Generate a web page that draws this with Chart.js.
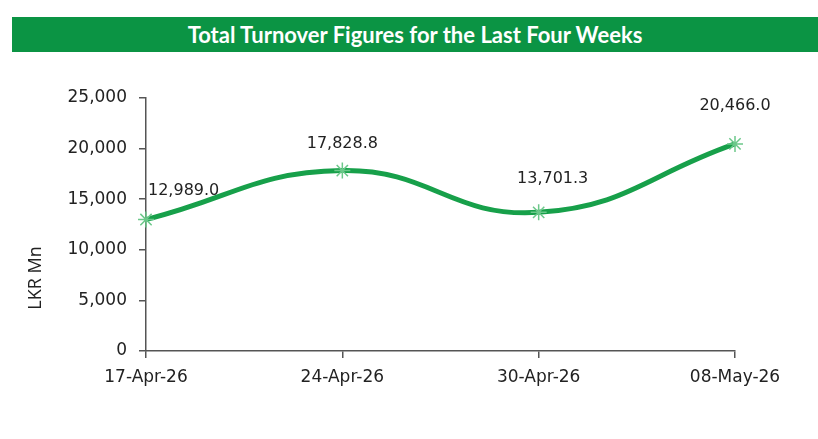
<!DOCTYPE html>
<html>
<head>
<meta charset="utf-8">
<script src="https://cdn.jsdelivr.net/npm/chart.js@4.4.1/dist/chart.umd.min.js"></script>
<style>
  html, body { margin: 0; padding: 0; background: #fff; }
  #wrap { position: relative; width: 818px; height: 439px; overflow: hidden; }
  #banner {
    position: absolute; left: 12px; top: 17px; width: 806px; height: 35px;
    background: #0b9444; color: #fff; font: bold 22px Lato, sans-serif;
    line-height: 35px; text-align: center;
  }
  canvas { position: absolute; left: 0; top: 0; }
</style>
</head>
<body>
<div id="wrap">
  <div id="banner">Total Turnover Figures for the Last Four Weeks</div>
  <canvas id="turnoverChart" width="818" height="439"></canvas>
</div>
<script>
// Week labels and turnover (LKR Mn)
const weeks = ["17-Apr-26", "24-Apr-26", "30-Apr-26", "08-May-26"];
const turnover = [12989.0, 17828.8, 13701.3, 20466.0];
const yTicks = [0, 5000, 10000, 15000, 20000, 25000];

const axisColor = "#555";
const textColor = "#222";
const tickFont = { size: 17, family: "DejaVu Sans" };

// label nudges (dx, dy, align) per point, like the hand-placed excel labels
const labelPos = [
    { dx: 2, dy: -29, align: "left" },
    { dx: 0, dy: -27, align: "center" },
    { dx: 14, dy: -33, align: "center" },
    { dx: 0, dy: -38, align: "center" },
];

const fmt = v => v.toLocaleString("en-US", { minimumFractionDigits: 1, maximumFractionDigits: 1 });

const ctx = document.getElementById("turnoverChart").getContext("2d");
new Chart(ctx, {
    type: "line",
    data: {
        labels: weeks,
        datasets: [
            {
                data: turnover,
                borderColor: "#17a04a",
                borderWidth: 5,
                tension: 0.45,
                pointStyle: "star",
                pointRadius: 8,
                pointBorderWidth: 1.5,
                pointBorderColor: "#6cc88a",
                pointBackgroundColor: "#6cc88a",
                fill: false,
            },
        ],
    },
    options: {
        responsive: false,
        animation: false,
        layout: { padding: { left: 0, right: 83, top: 98, bottom: 0 } },
        plugins: {
            legend: { display: false },
            tooltip: { enabled: false },
        },
        scales: {
            x: {
                offset: false,
                border: { color: axisColor, width: 1.5 },
                grid: { drawOnChartArea: false, drawTicks: true, tickLength: 7, color: axisColor, lineWidth: 1.5 },
                ticks: { font: tickFont, color: textColor, padding: 9, maxRotation: 0 },
                afterFit: scale => { scale.height = 88; },
            },
            y: {
                min: 0,
                max: 25000,
                afterBuildTicks: scale => { scale.ticks = yTicks.map(v => ({ value: v })); },
                border: { color: axisColor, width: 1.5 },
                grid: { drawOnChartArea: false, drawTicks: true, tickLength: 7, color: axisColor, lineWidth: 1.5 },
                ticks: {
                    font: tickFont,
                    color: textColor,
                    padding: 12,
                    callback: v => v.toLocaleString("en-US"),
                },
                afterFit: scale => { scale.width = 146; },
            },
        },
    },
    plugins: [
        {
            id: "valueLabels",
            afterDatasetsDraw(chart) {
                const c = chart.ctx;
                const pts = chart.getDatasetMeta(0).data;
                c.save();
                c.font = "16px 'DejaVu Sans'";
                c.fillStyle = textColor;
                c.textBaseline = "middle";
                pts.forEach((p, i) => {
                    const pos = labelPos[i];
                    c.textAlign = pos.align;
                    c.fillText(fmt(turnover[i]), p.x + pos.dx, p.y + pos.dy);
                });
                c.restore();
            },
        },
        {
            id: "yTitle",
            afterDraw(chart) {
                const c = chart.ctx;
                c.save();
                c.translate(36, 278);
                c.rotate(-Math.PI / 2);
                c.font = "18px 'Open Sans'";
                c.fillStyle = textColor;
                c.textAlign = "center";
                c.textBaseline = "middle";
                c.fillText("LKR Mn", 0, 0);
                c.restore();
            },
        },
    ],
});
</script>
</body>
</html>
